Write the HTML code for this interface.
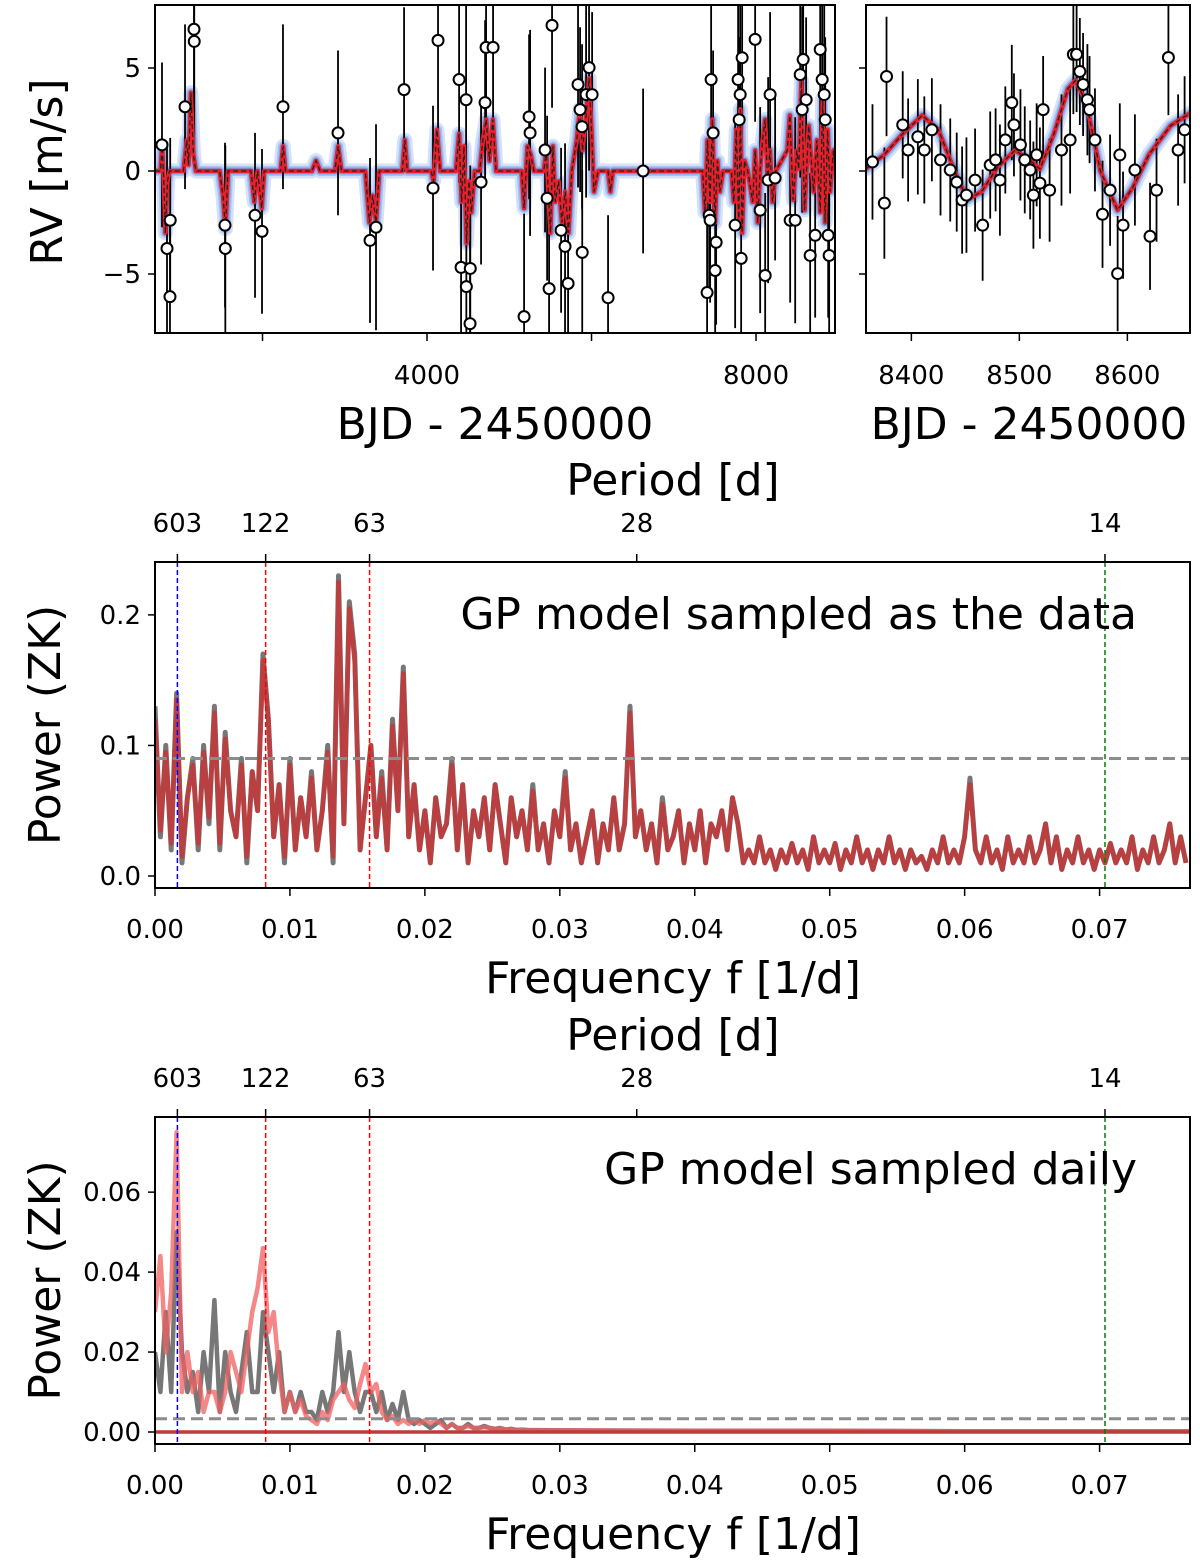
<!DOCTYPE html>
<html><head><meta charset="utf-8">
<style>
html,body{margin:0;padding:0;background:#fff;}
svg{display:block;font-family:"DejaVu Sans","Liberation Sans",sans-serif;}
</style></head>
<body>
<svg id="fig" width="1200" height="1566" viewBox="0 0 1200 1566" xmlns="http://www.w3.org/2000/svg">
</svg>
<script>
// ---------- DATA ----------
const rvT = [778,839,875,878,1058,1167,1170,1544,1548,1909,1994,2249,2918,3307,3380,3721,4073,4134,4390,4414,4475,4478,4523,4526,4657,4706,4718,4803,5180,5241,5253,5435,5460,5484,5520,5630,5678,5715,5836,5861,5885,5887,5934,5970,6007,6201,6627,7405,7430,7442,7454,7478,7515,7503,7746,7782,7807,7819,7831,7795,7989,8050,8111,8147,8171,8232,8415,8476,8537,8573,8609,8561,8658,8719,8780,8804,8829,8841,8877,8889];
const rvV = [1.27,-3.76,-6.1,-2.39,3.12,6.88,6.29,-2.63,-3.76,-2.15,-2.93,3.12,1.85,-3.37,-2.73,3.95,-0.83,6.34,4.44,-4.68,3.46,-5.61,-7.41,-4.73,-0.54,3.32,6.0,6.0,-7.07,2.63,1.85,1.02,-1.32,-5.71,7.07,-2.88,-3.66,-5.46,4.2,2.98,2.15,-3.95,3.71,5.02,3.71,-6.15,0,-5.9,-2.15,-2.39,4.44,1.85,-3.46,-4.83,-2.63,4.44,3.71,-4.24,5.5,2.49,6.39,-1.9,-5.07,-0.44,3.71,-0.34,-2.39,-2.39,4.68,5.41,3.46,2.98,-4.1,-3.12,5.9,4.44,3.71,2.49,-3.12,-4.1];
const rvE = [4,5,4,4,4,4,5,4,5,4,4,4,4,4,5,4,4,5,5,4,5,4,4,5,4,4,5,5,5,4,5,4,4,5,4,4,5,4,5,4,4,4,5,5,4,4,4,5,4,4,5,4,4,5,5,4,5,4,5,4,4,5,4,5,4,4,4,5,5,4,4,5,4,4,5,4,5,4,4,5];
const modelT = [693,760,780,800,820,845,870,1040,1080,1100,1130,1160,1190,1480,1520,1550,1580,1860,1900,1940,1990,2020,2220,2250,2280,2600,2650,2700,2880,2920,2960,3250,3300,3340,3380,3420,3700,3730,3760,4050,4080,4120,4160,4350,4390,4420,4450,4480,4510,4540,4580,4640,4680,4720,4760,4800,4840,5150,5180,5220,5260,5300,5420,5450,5480,5500,5530,5560,5600,5640,5680,5720,5760,5820,5860,5890,5930,5970,6000,6030,6080,6200,6230,6260,7350,7380,7410,7440,7470,7500,7530,7560,7600,7700,7730,7760,7790,7810,7830,7860,7900,7960,7990,8020,8050,8080,8110,8140,8170,8200,8240,8380,8410,8452,8496,8519,8552,8591,8640,8700,8740,8780,8810,8840,8870,8900,8940,8960];
const modelV = [0,0,1.2,-0.5,-3,-0.5,0,0,1.5,0.3,3.8,0.8,0,0,-1.2,-2.8,0,0,-1.5,0,-1.8,0,0,1.2,0,0,0.5,0,0,1.2,0,0,-2.5,-1.2,-2.5,0,0,1.5,0,0,-0.5,2.0,0,0,1.8,-1.5,1.2,-3.5,-0.5,-2,0,0,1.5,2.5,0.5,2.5,0,0,-1.8,1.2,0.8,0,0,1.0,-1.5,-3,1.2,-1.5,-0.5,-2.5,-1,-3,0,1.5,3.0,1,2.5,4.5,2,-1,0,0,-1,0,0,-2,1.5,-1.5,2.5,-2.5,0.5,-1,0,0,-1.5,2,-2.5,3,-3,0.5,0,-1.5,1,-2.5,0,1.5,2.5,-0.5,1,-1.5,0,1.0,2.7,-1.4,1.0,0.1,4.4,-1.9,2.2,-1,1.5,-2,3.5,-2.5,2,-1,1,0];
const zT = [8364,8377,8375,8392,8397,8406,8412,8419,8427,8436,8442,8447,8451,8459,8466,8473,8478,8482,8487,8493,8495,8501,8505,8510,8513,8516,8519,8522,8528,8539,8547,8550,8553,8556,8559,8563,8565,8570,8577,8584,8591,8596,8593,8607,8621,8627,8638,8647,8653];
const zV = [0.44,4.59,-1.56,2.24,1.02,1.66,1.02,2.0,0.54,0.05,-0.54,-1.41,-1.17,-0.44,-2.63,0.29,0.54,-0.44,1.51,3.32,2.24,1.27,0.54,0.05,-1.17,0.78,-0.59,2.98,-0.93,1.02,1.51,5.66,5.66,4.83,4.2,3.46,2.98,1.51,-2.1,-0.93,-4.98,-2.63,0.78,0.05,-3.17,-0.93,5.51,1.02,2.0];
const zE = [2.8,2.9,2.7,2.6,2.5,2.8,2.6,2.5,2.7,2.5,2.4,2.6,2.8,2.5,2.7,2.6,2.5,2.7,2.6,2.8,2.5,2.7,2.6,2.4,2.6,2.5,2.7,2.6,2.5,2.7,2.6,2.9,2.8,2.6,2.5,2.7,2.6,2.5,2.6,2.7,2.8,2.6,2.5,2.7,2.6,2.5,2.8,2.7,2.6];
const zModT = [8358,8375,8392,8410,8425,8440,8452,8465,8480,8496,8508,8519,8532,8545,8552,8562,8575,8591,8605,8620,8640,8658];
const zModV = [0.1,0.8,1.8,2.7,2.0,0,-1.4,-1.0,0.2,1.0,0.6,0.1,1.8,4.0,4.4,3.3,0,-1.9,-0.8,0.8,2.2,2.8];

const fStep = 0.0004;
const powerData = [0.13,0.03,0.10,0.02,0.14,0.01,0.06,0.09,0.02,0.10,
0.04,0.13,0.02,0.11,0.05,0.03,0.09,0.01,0.08,0.05,
0.17,0.12,0.03,0.07,0.01,0.09,0.02,0.06,0.03,0.08,
0.02,0.05,0.10,0.01,0.23,0.04,0.21,0.17,0.02,0.06,
0.10,0.03,0.08,0.02,0.12,0.05,0.16,0.03,0.07,0.02,
0.05,0.01,0.06,0.03,0.04,0.09,0.02,0.07,0.01,0.05,
0.03,0.06,0.02,0.07,0.04,0.01,0.06,0.03,0.05,0.02,
0.07,0.02,0.04,0.01,0.05,0.03,0.08,0.02,0.04,0.01,
0.03,0.05,0.01,0.04,0.02,0.06,0.02,0.04,0.13,0.03,
0.05,0.02,0.04,0.01,0.06,0.02,0.03,0.05,0.01,0.04,
0.02,0.05,0.01,0.04,0.03,0.05,0.02,0.06,0.04,0.01,
0.02,0.01,0.03,0.01,0.02,0.005,0.02,0.01,0.025,0.01,
0.02,0.005,0.03,0.01,0.02,0.01,0.025,0.005,0.02,0.01,
0.03,0.01,0.02,0.005,0.02,0.01,0.03,0.01,0.02,0.005,
0.02,0.01,0.015,0.005,0.02,0.01,0.03,0.01,0.02,0.01,
0.03,0.075,0.02,0.01,0.03,0.01,0.02,0.005,0.03,0.01,
0.02,0.01,0.03,0.01,0.02,0.04,0.01,0.03,0.005,0.02,
0.01,0.03,0.01,0.02,0.005,0.02,0.01,0.025,0.01,0.02,
0.01,0.03,0.005,0.02,0.01,0.03,0.01,0.02,0.04,0.01,
0.03,0.01];
const powerModel = [0.12,0.035,0.095,0.025,0.135,0.015,0.06,0.085,0.025,0.095,
0.045,0.125,0.025,0.105,0.05,0.03,0.085,0.015,0.08,0.05,
0.165,0.12,0.03,0.07,0.015,0.085,0.02,0.06,0.03,0.075,
0.02,0.05,0.095,0.015,0.225,0.04,0.205,0.165,0.02,0.06,
0.10,0.03,0.075,0.02,0.115,0.05,0.155,0.03,0.07,0.02,
0.05,0.01,0.06,0.03,0.04,0.085,0.02,0.07,0.01,0.05,
0.03,0.06,0.02,0.07,0.04,0.01,0.06,0.03,0.05,0.02,
0.065,0.02,0.04,0.01,0.05,0.03,0.075,0.02,0.04,0.01,
0.03,0.05,0.01,0.04,0.02,0.06,0.02,0.04,0.125,0.03,
0.05,0.02,0.04,0.01,0.055,0.02,0.03,0.05,0.01,0.04,
0.02,0.05,0.01,0.04,0.03,0.05,0.02,0.06,0.04,0.01,
0.02,0.01,0.03,0.01,0.02,0.005,0.02,0.01,0.025,0.01,
0.02,0.005,0.03,0.01,0.02,0.01,0.025,0.005,0.02,0.01,
0.03,0.01,0.02,0.005,0.02,0.01,0.03,0.01,0.02,0.005,
0.02,0.01,0.015,0.005,0.02,0.01,0.03,0.01,0.02,0.01,
0.03,0.07,0.02,0.01,0.03,0.01,0.02,0.005,0.03,0.01,
0.02,0.01,0.03,0.01,0.02,0.04,0.01,0.03,0.005,0.02,
0.01,0.03,0.01,0.02,0.005,0.02,0.01,0.025,0.01,0.02,
0.01,0.03,0.005,0.02,0.01,0.03,0.01,0.02,0.04,0.01,
0.03,0.01];
const dailyGray = [0.02,0.01,0.03,0.01,0.05,0.02,0.01,0.015,0.005,0.02,
0.01,0.033,0.005,0.02,0.01,0.005,0.015,0.025,0.01,0.01,
0.03,0.02,0.01,0.02,0.005,0.01,0.005,0.01,0.005,0.005,
0.003,0.01,0.005,0.01,0.025,0.01,0.02,0.01,0.005,0.01,
0.01,0.005,0.01,0.003,0.007,0.003,0.01,0.003,0.002,0.003,
0.002,0.001,0.002,0.003,0.001,0.002,0.001,0.001,0.002,0.001,
0.001,0.0015,0.001,0.0008,0.001,0.0006,0.0008,0.0005,0.0006,0.0005];
const dailyRed = [0.03,0.044,0.02,0.035,0.075,0.01,0.02,0.01,0.015,0.005,
0.01,0.01,0.005,0.01,0.02,0.015,0.01,0.02,0.03,0.036,
0.046,0.025,0.03,0.015,0.005,0.01,0.005,0.008,0.004,0.003,
0.002,0.005,0.003,0.008,0.01,0.012,0.008,0.006,0.012,0.017,
0.01,0.012,0.005,0.003,0.004,0.002,0.003,0.002,0.003,0.002,
0.003,0.002,0.003,0.002,0.001,0.002,0.001,0.001,0.0015,0.001,
0.001,0.0012,0.001,0.0008,0.0009,0.0006,0.0007,0.0005,0.0005,0.0004];
const dailyTailF = [0.03,0.04,0.05,0.06,0.0767];
const dailyTailGray = [0.0004,0.0003,0.0003,0.0002,0.0002];
const dailyTailRed = [0.0004,0.0003,0.0003,0.0002,0.0002];
const periodLabels = ["603","122","63","28","14"];
const periodFreqs = [0.00166,0.0082,0.0159,0.0357,0.0704];
const vlineFreqs = [0.00166,0.0082,0.0159,0.0704];
const vlineColors = ["#0000ff","#ff0000","#ff0000","#008000"];
const fapMid = 0.09, fapDaily = 0.0033;
const freqTicks = [0,0.01,0.02,0.03,0.04,0.05,0.06,0.07];

// ---------- HELPERS ----------
const NS="http://www.w3.org/2000/svg";
const svg=document.getElementById('fig');
function el(tag,attrs,parent){const e=document.createElementNS(NS,tag);for(const k in attrs)e.setAttribute(k,attrs[k]);(parent||svg).appendChild(e);return e;}
function lin(d0,d1,r0,r1){return v=>r0+(v-d0)*(r1-r0)/(d1-d0);}
function txt(x,y,s,size,anchor,name,parent,rot){const t=el('text',{x:x,y:y,'font-size':size,'text-anchor':anchor||'middle',fill:'#000'},parent);t.textContent=s;


if(rot)t.setAttribute('transform','rotate(-90 '+x+' '+y+')');return t;}
function clip(id,x,y,w,h){const d=el('defs',{});const c=el('clipPath',{id:id},d);el('rect',{x:x,y:y,width:w,height:h},c);}
function pathFrom(xs,ys,sx,sy){let d='';for(let i=0;i<xs.length;i++)d+=(i?'L':'M')+sx(xs[i]).toFixed(1)+' '+sy(ys[i]).toFixed(1);return d;}

// ---------- TOP PANELS ----------
const yRV=lin(0,5,171,68);
function rvPanel(name,x0,x1,d0,d1,T,V,E,mT,mV,cid){
  const g=el('g',{});
  
  
  const sx=lin(d0,d1,x0,x1);
  clip(cid,x0,5,x1-x0,328);
  const inner=el('g',{'clip-path':'url(#'+cid+')'},g);
  const md=pathFrom(mT,mV,sx,yRV);
  const bands=[[15,'#d4e1f7'],[10,'#a9c3f0'],[7,'#7ea5ea']];
  bands.forEach((b,i)=>{const p=el('path',{d:md,fill:'none',stroke:b[1],'stroke-width':b[0],'stroke-linejoin':'round','stroke-linecap':'round'},inner);
    
    });
  for(let i=0;i<T.length;i++){
    const x=sx(T[i]);
    const l=el('line',{x1:x,x2:x,y1:yRV(V[i]+E[i]),y2:yRV(V[i]-E[i]),stroke:'#000','stroke-width':1.8},inner);
    
    
  }
  const r=el('path',{d:md,fill:'none',stroke:'#e8202a','stroke-width':4.5,'stroke-linejoin':'round'},inner);
  
  
  const k=el('path',{d:md,fill:'none',stroke:'#222','stroke-width':1.3,'stroke-dasharray':'5 3'},inner);
  
  
  for(let i=0;i<T.length;i++){
    const c=el('circle',{cx:sx(T[i]),cy:yRV(V[i]),r:5.5,fill:'#fff',stroke:'#000','stroke-width':2},inner);
    
    
  }
  const fr=el('rect',{x:x0,y:5,width:x1-x0,height:328,fill:'none',stroke:'#000','stroke-width':2},g);
  
  
  return sx;
}
const sxL=rvPanel('rv-timeseries-panel',155,835,693,8960,rvT,rvV,rvE,modelT,modelV,'cL');
const sxR=rvPanel('rv-zoom-panel',866,1190,8358,8658,zT,zV,zE,zModT,zModV,'cR');
[5,0,-5].forEach(v=>{const y=yRV(v);el('line',{x1:148,x2:155,y1:y,y2:y,stroke:'#000','stroke-width':1.5});
  el('line',{x1:859,x2:866,y1:y,y2:y,stroke:'#000','stroke-width':1.5});
  txt(141,y+9,v<0?'\u2212'+(-v):''+v,26,'end','y-tick-label');});
[2000,4000,6000,8000].forEach(v=>{const x=sxL(v);el('line',{x1:x,x2:x,y1:333,y2:341,stroke:'#000','stroke-width':1.5});
  if(v%4000===0)txt(x,384,''+v,26,'middle','x-tick-label');});
[8400,8500,8600].forEach(v=>{const x=sxR(v);el('line',{x1:x,x2:x,y1:333,y2:341,stroke:'#000','stroke-width':1.5});
  txt(x,384,''+v,26,'middle','x-tick-label');});
txt(62,172,'RV [m/s]',44,'middle','y-axis-title',null,true);
txt(495,439,'BJD - 2450000',44,'middle','x-axis-title');
txt(1029,439,'BJD - 2450000',44,'middle','x-axis-title-zoom');

// ---------- PERIODOGRAMS ----------
function pgPanel(name,top,bot,ymax,yticks,yfmt,series,fap,title,cid){
  const g=el('g',{});
  
  
  const x0=155,x1=1190;
  const sx=lin(0,0.0767,x0,x1);
  const sy=lin(0,ymax,bot,top);
  clip(cid,x0,top,x1-x0,bot-top+14);
  const inner=el('g',{'clip-path':'url(#'+cid+')'},g);
  series.forEach(s=>{const p=el('path',{d:pathFrom(s.f,s.v,sx,sy),fill:'none',stroke:s.c,'stroke-width':s.w,'stroke-linejoin':'round','stroke-opacity':s.o},inner);
    
    });
  const fl=el('line',{x1:x0,x2:x1,y1:sy(fap),y2:sy(fap),stroke:'#8c8c8c','stroke-width':3,'stroke-dasharray':'12 6'},g);
  
  
  vlineFreqs.forEach((f,i)=>{const vl=el('line',{x1:sx(f),x2:sx(f),y1:top,y2:bot+12,stroke:vlineColors[i],'stroke-width':1.5,'stroke-dasharray':'5 3'},g);
    
    });
  const fr=el('rect',{x:x0,y:top,width:x1-x0,height:bot+12-top,fill:'none',stroke:'#000','stroke-width':2},g);
  
  
  const B=bot+12;
  yticks.forEach(v=>{const y=sy(v);el('line',{x1:148,x2:155,y1:y,y2:y,stroke:'#000','stroke-width':1.5},g);txt(141,y+9,yfmt(v),26,'end','y-tick-label',g);});
  freqTicks.forEach(v=>{const x=sx(v);el('line',{x1:x,x2:x,y1:B,y2:B+8,stroke:'#000','stroke-width':1.5},g);txt(x,B+50,v.toFixed(2),26,'middle','x-tick-label',g);});
  periodFreqs.forEach((f,i)=>{const x=sx(f);el('line',{x1:x,x2:x,y1:top-8,y2:top,stroke:'#000','stroke-width':1.5},g);txt(x,top-30,periodLabels[i],26,'middle','period-tick-label',g);});
  txt(673,top-67,'Period [d]',44,'middle','period-axis-title',g);
  txt(673,B+105,'Frequency f [1/d]',44,'middle','x-axis-title',g);
  txt(60,(top+B)/2,'Power (ZK)',44,'middle','y-axis-title',g,true);
  txt(1137,top+67,title,44,'end','panel-annotation',g);
}
const fMid=powerData.map((_,i)=>i*fStep);
pgPanel('periodogram-data-sampled',562,876,0.2405,[0,0.1,0.2],v=>v.toFixed(1),
 [{f:fMid,v:powerData,c:'#777',w:5,o:1,n:'periodogram-gray'},{f:fMid,v:powerModel,c:'#c0393b',w:4.6,o:0.9,n:'periodogram-red'}],
 fapMid,'GP model sampled as the data','cM');
const fD=dailyGray.map((_,i)=>i*fStep).concat(dailyTailF);
pgPanel('periodogram-daily',1117,1432,0.0788,[0,0.02,0.04,0.06],v=>v.toFixed(2),
 [{f:fD,v:dailyGray.concat(dailyTailGray),c:'#777',w:4.5,o:1,n:'periodogram-gray'},{f:fD,v:dailyRed.concat(dailyTailRed),c:'#f06060',w:4.5,o:0.75,n:'periodogram-red'},
  {f:[0,0.0767],v:[0,0],c:'#c0393b',w:3.5,o:1,n:'periodogram-baseline'}],
 fapDaily,'GP model sampled daily','cD');
</script>
</body></html>
